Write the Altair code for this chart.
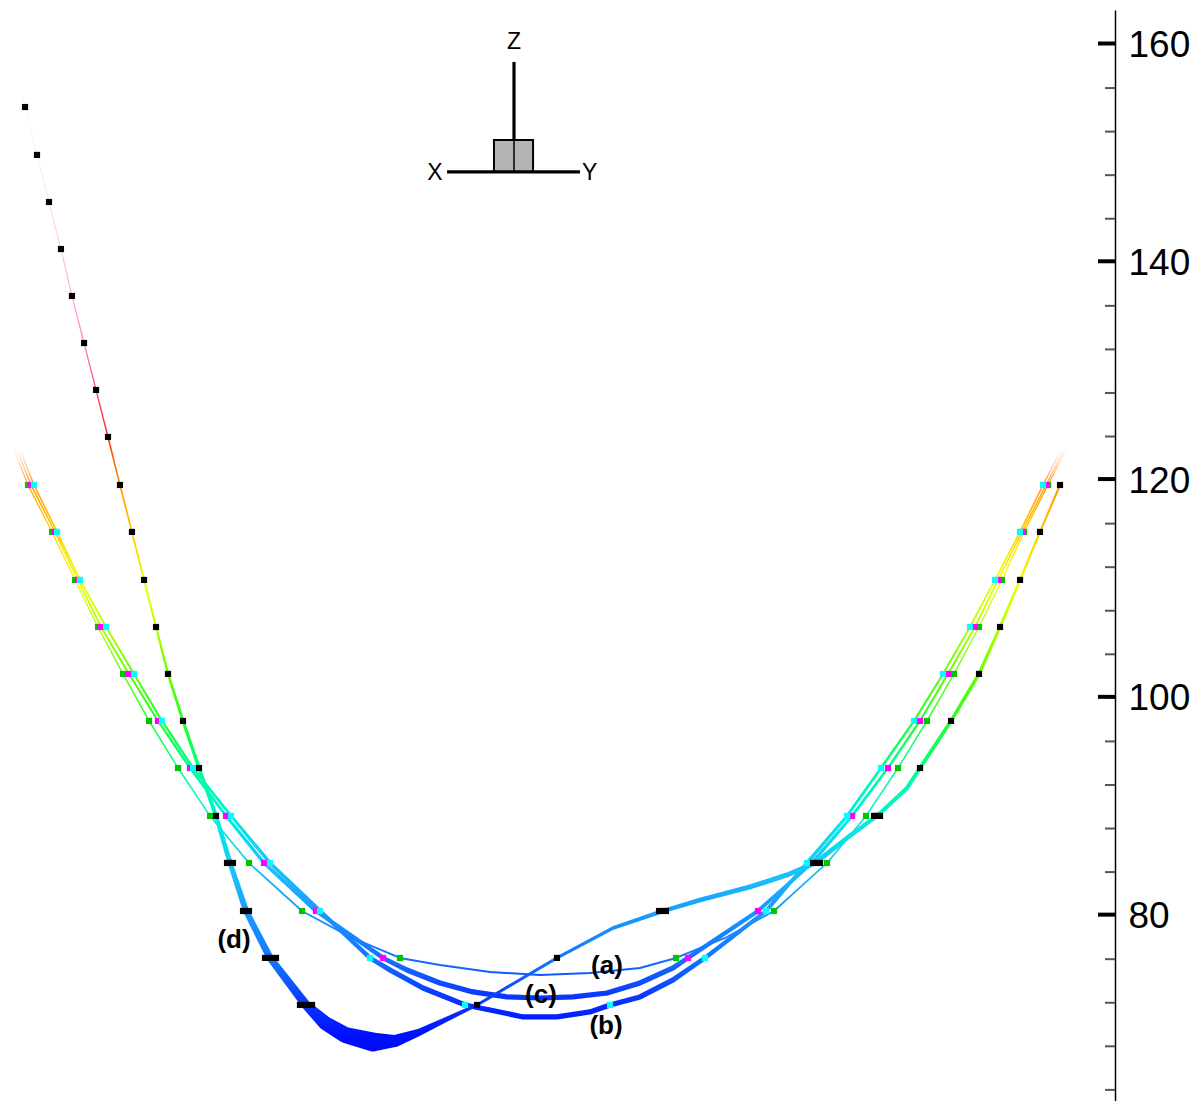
import altair as alt
import pandas as pd

# ---------------- data: x = horizontal projected coordinate, z = elevation ----------------
# cable (a): green nodes
A_X = [-48.62, -47.43, -45.22, -43.11, -41.00, -38.70, -36.31, -33.65, -30.71, -27.13, -22.26, -17.85,
       -13.26, -9.59, -4.99, -0.40, 4.19, 8.78, 12.09, 16.59, 21.09, 25.96, 29.54, 32.48, 35.14, 37.62,
       39.92, 42.03, 44.05, 46.26, 47.82]
A_Z = [122.67, 119.64, 115.33, 110.92, 106.60, 102.29, 97.97, 93.65, 89.25, 84.93, 80.52, 78.14,
       76.21, 75.56, 74.92, 74.65, 74.83, 75.29, 76.21, 78.04, 80.52, 84.93, 89.25, 93.65, 97.97, 102.29,
       106.60, 110.92, 115.33, 119.64, 122.67]
A_NODE = [0] + [1] * 10 + [0, 1, 0, 0, 0, 0, 0, 1, 0] + [1] * 10 + [0]

# cable (b): cyan nodes
B_X = [-48.07, -46.88, -44.76, -42.65, -40.26, -37.69, -35.12, -32.27, -28.78, -25.20, -20.61, -16.02,
       -14.18, -11.15, -7.29, -4.99, -1.96, 1.16, 4.19, 6.03, 8.78, 11.82,
       14.75, 20.36, 24.12, 27.80, 30.92, 33.95, 36.61, 39.09, 41.39, 43.69, 45.80, 47.36]
B_Z = [122.67, 119.64, 115.33, 110.92, 106.60, 102.29, 97.97, 93.65, 89.25, 84.93, 80.52, 76.21,
       75.10, 73.45, 71.89, 71.43, 70.79, 70.79, 71.25, 71.89, 72.63, 74.19,
       76.21, 80.52, 84.93, 89.25, 93.65, 97.97, 102.29, 106.60, 110.92, 115.33, 119.64, 122.67]
B_NODE = [0] + [1] * 11 + [0, 0, 1, 0, 0, 0, 0, 1, 0, 0] + [1] * 11 + [0]

# cable (c): magenta nodes
C_X = [-48.35, -47.15, -44.95, -42.84, -40.72, -38.15, -35.49, -32.55, -29.24, -25.75, -20.98, -14.82,
       -12.62, -9.59, -6.55, -3.43, -0.40, 2.63, 5.75, 8.78, 11.82,
       13.19, 19.62, 24.58, 28.26, 31.56, 34.50, 37.07, 39.55, 41.67, 43.87, 46.08, 47.64]
C_Z = [122.67, 119.64, 115.33, 110.92, 106.60, 102.29, 97.97, 93.65, 89.25, 84.93, 80.52, 76.21,
       75.10, 73.91, 73.09, 72.63, 72.53, 72.63, 72.99, 73.91, 75.29,
       76.21, 80.52, 84.93, 89.25, 93.65, 97.97, 102.29, 106.60, 110.92, 115.33, 119.64, 122.67]
C_NODE = [0] + [1] * 11 + [0] * 9 + [1] * 11 + [0]

# cable (d): black nodes
D_X = [-47.98, -47.70, -46.60, -45.50, -44.40, -43.39, -42.28, -41.18, -40.08, -38.98, -37.88, -36.77,
       -35.67, -34.57, -33.19, -31.72, -30.16, -28.87, -27.40, -25.20, -21.89,
       -20.15, -18.31, -15.74, -13.72, -11.42, -9.13,
       -6.19, 1.16, 6.31, 10.90, 14.30, 18.89, 22.29, 24.86, 27.80, 30.55, 33.31,
       34.50, 37.35, 39.92, 41.85, 43.69, 45.52, 47.36]
D_Z = [155.46, 154.35, 149.95, 145.63, 141.31, 137.00, 132.68, 128.37, 124.05, 119.64, 115.33, 110.92,
       106.60, 102.29, 97.97, 93.65, 89.25, 84.93, 80.52, 76.21, 71.89,
       70.24, 69.14, 68.49, 68.58, 69.41, 70.51,
       71.89, 76.21, 78.96, 80.52, 81.53, 82.73, 83.83, 84.93, 87.23, 89.25, 91.82,
       93.65, 97.97, 102.29, 106.60, 110.92, 115.33, 119.64]
D_NODE = [0] + [1] * 20 + [0] * 6 + [1, 1, 0, 1, 0, 0, 0, 1, 0, 1, 0] + [1] * 7
# overlapping node positions of (d) (several snapshots)
D_EXTRA_X = [-29.15, -28.60, -27.68, -27.13, -25.66, -24.65, -22.45, -21.34, 10.53, 11.17, 24.67, 25.32, 30.28, 30.83]
D_EXTRA_Z = [84.93, 84.93, 80.52, 80.52, 76.21, 76.21, 71.89, 71.89, 80.52, 80.52, 84.93, 84.93, 89.25, 89.25]

# case labels
LBL_TEXT = ["(a)", "(b)", "(c)", "(d)"]
LBL_X = [5.75, 5.66, -0.31, -28.51]
LBL_Z = [75.47, 69.96, 72.81, 77.86]

# elevation axis
MAJOR_TICKS = [80, 100, 120, 140, 160]
MINOR_TICKS = [64, 68, 72, 76, 84, 88, 92, 96, 104, 108, 112, 116, 124, 128, 132, 136, 144, 148, 152, 156]

# orientation triad (view axes)
TRIAD_LINE_X = [-2.79, -2.79, -8.94]
TRIAD_LINE_X2 = [-2.79, -2.79, 3.27]
TRIAD_LINE_Z = [158.49, 151.32, 148.39]
TRIAD_LINE_Z2 = [151.32, 148.39, 148.39]
TRIAD_BOX = [-4.63, -1.04, 148.39, 151.32]
TRIAD_TEXT = ["Z", "X", "Y"]
TRIAD_TEXT_X = [-2.79, -10.05, 4.15]
TRIAD_TEXT_Z = [160.28, 148.25, 148.25]

X_DOMAIN = [-50.0, 52.41]
Z_DOMAIN = [63.07, 163.26]

# ---------------- styles ----------------
A_W = [1, 1.2, 1.2, 1.3, 1.3, 1.4, 1.5, 1.5, 1.6, 1.7, 1.8, 1.9, 2, 2, 2, 2, 2, 2, 2, 1.9, 1.8, 1.7,
       1.6, 1.5, 1.5, 1.4, 1.3, 1.3, 1.2, 1.2, 1]
B_W = [1.2, 1.5, 1.6, 1.7, 1.8, 2, 2.2, 2.6, 3, 3.5, 4, 4.5] + [5.2] * 10 + \
      [4.5, 4, 3.5, 3, 2.6, 2.2, 2, 1.8, 1.7, 1.6, 1.5, 1.2]
C_W = [1.2, 1.5, 1.6, 1.7, 1.8, 2, 2.2, 2.6, 3, 3.5, 4, 4.5] + [5.2] * 9 + \
      [4.5, 4, 3.5, 3, 2.6, 2.2, 2, 1.8, 1.7, 1.6, 1.5, 1.2]
D_W = [1, 1, 1, 1, 1.1, 1.2, 1.3, 1.4, 1.5, 1.6, 1.8, 2, 2.2, 2.5, 3, 3.5, 4, 5, 6, 7, 9,
       14, 16, 19, 12, 7, 5,
       3, 3, 3.5, 4, 4.5, 5, 5, 5, 4.5, 4, 4, 4, 3.5, 3.5, 3, 2.5, 2.2, 2]

CM_Z = [66.0, 70.0, 73.0, 76.2, 80.5, 84.9, 89.3, 93.7, 98.0, 102.3, 106.6, 110.9, 115.3, 119.6, 122.0,
        124.1, 128.4, 132.7, 137.0, 141.3, 145.6, 150.0, 154.4, 158.0]
CM_C = ["#0000ee", "#0010ff", "#0a38ff", "#1470ff", "#1a96ff", "#18c4f8", "#00f0e0", "#00ff98", "#20ff30",
        "#60ff00", "#b0ff00", "#f0ff00", "#ffd000", "#ff9800", "#ff6a00", "#ff3010", "#ff4a78", "#ff80c4",
        "#ffa2e2", "#ffc0f0", "#ffd8fa", "#ffeaff", "#fff6ff", "#ffffff"]
# group cables fade out above their top node
TIP_Z = [z for z in CM_Z if z <= 119.6] + [121.2, 122.7]
TIP_C = [c for z, c in zip(CM_Z, CM_C) if z <= 119.6] + ["#ffc89a", "#fff2ea"]

NODE_COLORS = {"a": "#00c400", "c": "#ff00ff", "b": "#00ffff", "d": "#000000"}
FONT = "Liberation Sans"


def _rgb(h):
    h = h.lstrip("#")
    return [int(h[i:i + 2], 16) for i in (0, 2, 4)]


def cmap(z, zs, cs):
    if z <= zs[0]:
        return cs[0]
    if z >= zs[-1]:
        return cs[-1]
    for k in range(len(zs) - 1):
        if zs[k] <= z <= zs[k + 1]:
            t = (z - zs[k]) / (zs[k + 1] - zs[k])
            a, b = _rgb(cs[k]), _rgb(cs[k + 1])
            return "#%02x%02x%02x" % tuple(int(round(a[i] + (b[i] - a[i]) * t)) for i in range(3))
    return cs[-1]


def gradient(zvals, zs, cs):
    zmax, zmin = max(zvals), min(zvals)
    pts = sorted(set([zmax, zmin] + [s for s in zs if zmin < s < zmax]), reverse=True)
    stops = [alt.GradientStop(offset=(zmax - p) / (zmax - zmin), color=cmap(p, zs, cs)) for p in pts]
    return alt.Gradient(gradient="linear", stops=stops, x1=0, x2=0, y1=0, y2=1)


XS = alt.Scale(domain=X_DOMAIN, nice=False, zero=False)
ZS = alt.Scale(domain=Z_DOMAIN, nice=False, zero=False)
AXIS = alt.Axis(orient="right", values=MAJOR_TICKS, ticks=False, tickSize=0, grid=False, domain=True,
                domainColor="black", domainWidth=1.5, labelFont=FONT,
                labelFontSize=37, labelColor="black", labelPadding=13, title=None,
                labelOverlap=False, labelFlush=False)


def X(f="x"):
    return alt.X(f + ":Q", scale=XS, axis=None)


def Y(f="z"):
    return alt.Y(f + ":Q", scale=ZS, axis=AXIS)


def cable(xv, zv, wv, zs, cs):
    df = pd.DataFrame({"x": xv, "z": zv, "w": wv, "i": list(range(len(xv)))})
    return alt.Chart(df).mark_trail(color=gradient(zv, zs, cs)).encode(
        x=X(), y=Y(), size=alt.Size("w:Q", scale=None, legend=None), order=alt.Order("i:Q"))


layers = [
    cable(A_X, A_Z, A_W, TIP_Z, TIP_C),
    cable(C_X, C_Z, C_W, TIP_Z, TIP_C),
    cable(B_X, B_Z, B_W, TIP_Z, TIP_C),
    cable(D_X, D_Z, D_W, CM_Z, CM_C),
]

node_rows = []
for key, xv, zv, nv in [("a", A_X, A_Z, A_NODE), ("c", C_X, C_Z, C_NODE), ("b", B_X, B_Z, B_NODE),
                        ("d", D_X, D_Z, D_NODE)]:
    for xx, zz, nn in zip(xv, zv, nv):
        if nn:
            node_rows.append({"x": xx, "z": zz, "c": NODE_COLORS[key]})
for xx, zz in zip(D_EXTRA_X, D_EXTRA_Z):
    node_rows.append({"x": xx, "z": zz, "c": NODE_COLORS["d"]})
nodes = alt.Chart(pd.DataFrame(node_rows)).mark_square(size=38, opacity=1, strokeWidth=0).encode(
    x=X(), y=Y(), color=alt.Color("c:N", scale=None, legend=None))
layers.append(nodes)

labels = alt.Chart(pd.DataFrame({"t": LBL_TEXT, "x": LBL_X, "z": LBL_Z})).mark_text(
    font=FONT, fontSize=26, fontWeight="bold", color="black",
    align="center", baseline="middle").encode(x=X(), y=Y(), text="t:N")
layers.append(labels)

# orientation triad
box = alt.Chart(pd.DataFrame({"x": [TRIAD_BOX[0]], "x2": [TRIAD_BOX[1]], "z": [TRIAD_BOX[2]],
                              "z2": [TRIAD_BOX[3]]})).mark_rect(
    fill="#b4b4b4", stroke="black", strokeWidth=2).encode(
    x=X(), x2=alt.X2("x2:Q"), y=Y(), y2=alt.Y2("z2:Q"))
triad_df = pd.DataFrame({"x": TRIAD_LINE_X, "x2": TRIAD_LINE_X2, "z": TRIAD_LINE_Z, "z2": TRIAD_LINE_Z2,
                         "k": ["outer", "inner", "outer"]})
triad = alt.Chart(triad_df).mark_rule(color="black").encode(
    x=X(), x2=alt.X2("x2:Q"), y=Y(), y2=alt.Y2("z2:Q"),
    strokeWidth=alt.StrokeWidth("k:N", scale=alt.Scale(domain=["outer", "inner"], range=[3.2, 1.5]),
                                legend=None))
triad_txt = alt.Chart(pd.DataFrame({"t": TRIAD_TEXT, "x": TRIAD_TEXT_X, "z": TRIAD_TEXT_Z})).mark_text(
    font=FONT, fontSize=23, color="black", align="center", baseline="middle").encode(
    x=X(), y=Y(), text="t:N")
layers += [box, triad, triad_txt]

# elevation axis ticks (pointing into the plot)
major = alt.Chart(pd.DataFrame({"x": [X_DOMAIN[1]] * len(MAJOR_TICKS), "z": MAJOR_TICKS})).mark_tick(
    orient="horizontal", size=17, thickness=4, color="black", opacity=1, xOffset=-8.5, yOffset=-2).encode(
    x=X(), y=Y())
minor = alt.Chart(pd.DataFrame({"x": [X_DOMAIN[1]] * len(MINOR_TICKS), "z": MINOR_TICKS})).mark_tick(
    orient="horizontal", size=10, thickness=2, color="#555555", opacity=1, xOffset=-5, yOffset=-1).encode(
    x=X(), y=Y())
layers += [major, minor]

chart = alt.layer(*layers).properties(
    width=1115, height=1091, padding={"left": 0, "top": 10, "right": 0, "bottom": 0},
    background="white"
).configure_view(strokeWidth=0)

chart.save("out.html", embed_options={"renderer": "svg", "actions": False})
